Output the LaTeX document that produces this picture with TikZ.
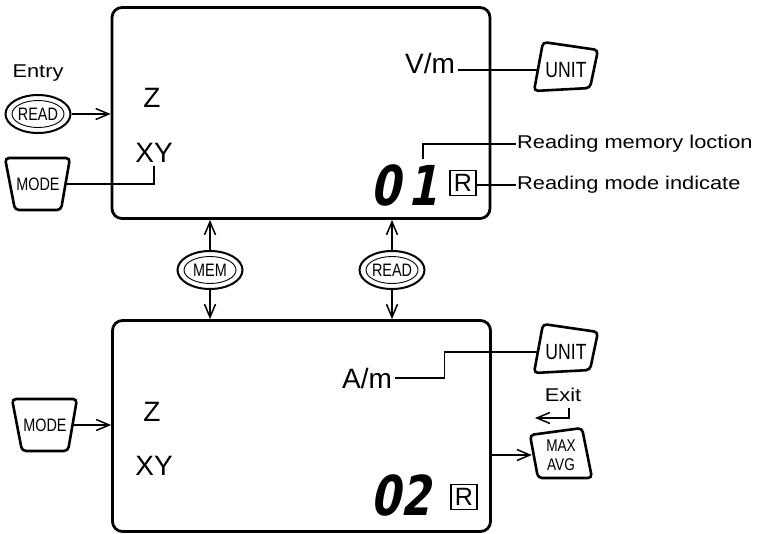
\documentclass[tikz,border=0pt]{standalone}
\usepackage{fontspec}
\setmainfont{Liberation Sans}
\newfontfamily\keyfont[FakeStretch=0.8]{Liberation Sans}
\newfontfamily\lblfont[FakeStretch=1.18]{Liberation Sans}
\newfontfamily\lcdfont[FakeSlant=0.2,FakeStretch=0.78]{DejaVu Sans}
\usetikzlibrary{arrows.meta,shapes.geometric}

\def\modekey{(5,158) -- (70,158) -- (61,210) -- (15,210) -- cycle}
\def\unitkey{(543,42) -- (598,50) -- (590,88) -- (534,91) -- cycle}
\def\maxkey{(530,435) -- (582,428) -- (592,478) -- (538,478) -- cycle}

\begin{document}
\begin{tikzpicture}[x=1pt,y=-1pt,
	lcd/.style={draw, line width=2.8pt, rounded corners=10pt, minimum width=378pt, minimum height=211pt},
	big/.style={font=\fontsize{28}{30}\selectfont},
	digits/.style={font=\lcdfont\bfseries\fontsize{55}{55}\selectfont, inner sep=0pt, anchor=base west},
	rbox/.style={draw, line width=1.3pt, minimum width=26pt, minimum height=25pt, inner sep=0pt, font=\fontsize{25}{25}\selectfont},
	keytxt/.style={font=\keyfont\fontsize{18}{18}\selectfont, inner sep=0pt},
	key/.style={line width=2.6pt, rounded corners=4pt},
	oval/.style={ellipse, draw, line width=2pt, minimum width=65pt, minimum height=38pt, keytxt,
		path picture={\draw[line width=0.9pt] (path picture bounding box.center) ellipse [x radius=26pt, y radius=13.5pt];}},
	lbl/.style={font=\lblfont\fontsize{18.5}{18.5}\selectfont, inner sep=1pt},
	wire/.style={line width=1.5pt},
	arr/.style={wire, -{Straight Barb[length=13pt, width=11pt]}}]

	\useasboundingbox (0,0) rectangle (757,533);

	% the two displays
	\node[lcd] (lcdA) at (301,113) {};
	\node[lcd] (lcdB) at (301.5,426) {};

	% upper display
	\node[big] (zA) at (152,98) {Z};
	\node[big] (xyA) at (154,153) {XY};
	\node[big] (vmA) at (430,63) {V/m};
	\node[digits] (memA) at (370,205) {0\kern7pt1};
	\node[rbox] (rA) at (463,183) {R};
	\node[lbl, anchor=west] (memLbl) at (516,144) {Reading memory loction};
	\node[lbl, anchor=west] (modeLbl) at (516,185) {Reading mode indicate};
	\coordinate (memTick) at (423,159);
	\draw[wire] (memTick) |- (memLbl.west);
	\draw[wire] (rA.east |- modeLbl.west) -- (modeLbl.west);

	% keys round the upper display
	\node[lbl] (entry) at (38,73) {Entry};
	\node[oval] (readA) at (38,114) {READ};
	\draw[key] \modekey;
	\node[keytxt, minimum width=58pt] (modeA) at (38,184) {MODE};
	\draw[key] \unitkey;
	\node[keytxt, font=\keyfont\fontsize{22}{22}\selectfont, minimum width=56pt] (unitA) at (566,70) {UNIT};
	\draw[arr] (readA.east) -- (readA.east -| lcdA.west);
	\draw[wire] (modeA.east) -| (xyA.south);
	\draw[wire] (vmA.east |- unitA) -- (unitA.west);

	% keys between the displays
	\node[oval] (memK) at (210,270) {MEM};
	\node[oval] (readK) at (392,270) {READ};
	\draw[arr] (memK.north) -- (memK.north |- lcdA.south);
	\draw[arr] (memK.south) -- (memK.south |- lcdB.north);
	\draw[arr] (readK.north) -- (readK.north |- lcdA.south);
	\draw[arr] (readK.south) -- (readK.south |- lcdB.north);

	% lower display
	\node[big] (zB) at (152,412) {Z};
	\node[big] (xyB) at (154,466) {XY};
	\node[big] (amB) at (367,378) {A/m};
	\node[digits] (memB) at (370,515) {02};
	\node[rbox] (rB) at (464,497) {R};

	% keys round the lower display
	\draw[key, shift={(7,241)}] \modekey;
	\node[keytxt, minimum width=56pt] (modeB) at (45,425) {MODE};
	\draw[key, shift={(0,282)}] \unitkey;
	\node[keytxt, font=\keyfont\fontsize{22}{22}\selectfont, minimum width=56pt] (unitB) at (566,352) {UNIT};
	\draw[key] \maxkey;
	\node[keytxt, font=\keyfont\fontsize{17}{19}\selectfont, align=center, minimum width=58pt] (maxK) at (561,455) {MAX\\AVG};
	\node[lbl] (exitL) at (563,395) {Exit};
	\draw[arr] (modeB.east) -- (modeB.east -| lcdB.west);
	\draw[wire] (amB.east) -- ++(49,0) |- (unitB.west);
	\draw[arr] ([xshift=6pt,yshift=-5pt]exitL.south) |- ++(-34,10);
	\draw[arr] (lcdB.east |- maxK) -- (maxK.west);

\end{tikzpicture}
\end{document}
